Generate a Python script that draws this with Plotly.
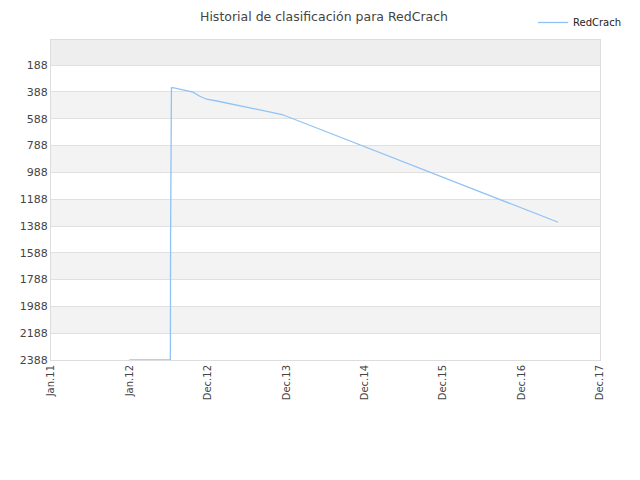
import plotly.graph_objects as go

# Ranking history of RedCrach (lower number = better position)
dates = [
    "2012-01-01", "2012-07-10", "2012-07-11", "2012-07-15", "2012-07-22",
    "2012-09-24", "2012-10-23", "2012-11-24", "2012-12-26", "2013-02-17",
    "2013-12-12", "2014-06-10", "2017-06-20",
]
ranks = [2388, 2388, 1440, 357, 356, 375, 389, 420, 442, 457, 556, 668, 1360]

# Axis ticks
x_tickvals = ["2011-01-01", "2012-01-01", "2013-01-01", "2014-01-01",
              "2015-01-01", "2016-01-01", "2017-01-01", "2018-01-01"]
x_ticktext = ["Jan.11", "Jan.12", "Dec.12", "Dec.13", "Dec.14", "Dec.15", "Dec.16", "Dec.17"]
y_tickvals = [188, 388, 588, 788, 988, 1188, 1388, 1588, 1788, 1988, 2188, 2388]

# page body has a small default margin, so the figure is a bit smaller than the window
W, H = 632, 472

fig = go.Figure()

fig.add_trace(
    go.Scatter(
        x=dates,
        y=ranks,
        mode="lines",
        line=dict(color="#90c3f5", width=1.3),
        name="RedCrach",
    )
)

# alternating background bands between the grid lines
bands = []
bands.append(dict(type="rect", xref="paper", yref="y", x0=0, x1=1, y0=0, y1=y_tickvals[0],
                  fillcolor="#eeeeee", line_width=0, layer="below"))
for i in range(1, len(y_tickvals) - 1, 2):
    bands.append(dict(type="rect", xref="paper", yref="y", x0=0, x1=1,
                      y0=y_tickvals[i], y1=y_tickvals[i + 1],
                      fillcolor="#f3f3f3", line_width=0, layer="below"))

fig.update_layout(
    width=W,
    height=H,
    paper_bgcolor="white",
    plot_bgcolor="white",
    font=dict(family="DejaVu Sans", size=11, color="#444444"),
    title=dict(text="Historial de clasificación para RedCrach", x=0.5, xanchor="center",
               y=1 - 4 / H, yanchor="top", font=dict(size=12.5, color="#444444")),
    margin=dict(l=43, r=40, t=32, b=120, autoexpand=False),
    shapes=bands,
    showlegend=True,
    legend=dict(x=(627 - 8) / W, y=1 + 6 / H, xref="container", yref="container",
                xanchor="right", yanchor="top", font=dict(size=10, color="#222222"),
                bgcolor="rgba(0,0,0,0)", itemwidth=30),
    xaxis=dict(
        type="date",
        range=["2011-01-01", "2018-01-01"],
        tickmode="array",
        tickvals=x_tickvals,
        ticktext=x_ticktext,
        tickangle=-90,
        showgrid=False,
        showline=True,
        linecolor="#dddddd",
        mirror=True,
        ticks="",
        tickfont=dict(size=10, color="#444444"),
        zeroline=False,
    ),
    yaxis=dict(
        range=[2388, 0],
        tickmode="array",
        tickvals=y_tickvals,
        showgrid=True,
        gridcolor="#e0e0e0",
        showline=True,
        linecolor="#dddddd",
        mirror=True,
        ticks="",
        zeroline=False,
        tickfont=dict(size=11, color="#444444"),
    ),
)

fig.write_html("out.html")
